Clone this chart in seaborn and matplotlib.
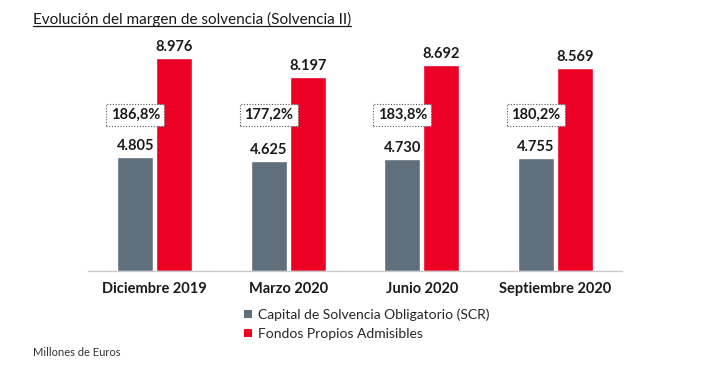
import matplotlib
import numpy as np
import pandas as pd
import seaborn as sns

matplotlib.use("Agg")
import matplotlib.pyplot as plt
from matplotlib.lines import Line2D
from matplotlib.patches import Patch

periodos = ["Diciembre 2019", "Marzo 2020", "Junio 2020", "Septiembre 2020"]
scr = [4805, 4625, 4730, 4755]
fondos = [8976, 8197, 8692, 8569]
ratios = ["186,8%", "177,2%", "183,8%", "180,2%"]

SERIE_SCR = "Capital de Solvencia Obligatorio (SCR)"
SERIE_FP = "Fondos Propios Admisibles"
GRIS = "#5f6f7b"
ROJO = "#ec0026"


def fmt_miles(v: float) -> str:
    return f"{v:,.0f}".replace(",", ".")


df = pd.DataFrame(
    {
        "Periodo": periodos * 2,
        "Serie": [SERIE_SCR] * len(periodos) + [SERIE_FP] * len(periodos),
        "Valor": scr + fondos,
    }
)

sns.set_theme(style="white")
plt.rcParams["font.family"] = ["Lato", "DejaVu Sans"]

fig = plt.figure(figsize=(7.11, 3.68), dpi=100)
ax = fig.add_axes([0.1238, 0.2636, 0.7511, 0.644])

sns.barplot(
    data=df,
    x="Periodo",
    y="Valor",
    hue="Serie",
    order=periodos,
    hue_order=[SERIE_SCR, SERIE_FP],
    palette=[GRIS, ROJO],
    width=0.58,
    gap=0.07,
    saturation=1,
    legend=False,
    ax=ax,
)

ax.set_xlim(-0.5, 3.5)
ax.set_ylim(0, 10000)
ax.set_xlabel("")
ax.set_ylabel("")
ax.set_yticks([])
for side in ["top", "right", "left"]:
    ax.spines[side].set_visible(False)
ax.spines["bottom"].set_color("#c8c8c8")
ax.spines["bottom"].set_linewidth(1)
ax.tick_params(axis="x", which="major", length=0, pad=8, labelsize=10.5)
ax.set_xticks(np.arange(-0.5, 4, 1), minor=True)
ax.tick_params(axis="x", which="minor", length=4, color="#c8c8c8", width=1)
for lbl in ax.get_xticklabels():
    lbl.set_fontweight("bold")
    lbl.set_color("#1a1a1a")

for cont in ax.containers:
    for bar in cont:
        h = bar.get_height()
        ax.text(
            bar.get_x() + bar.get_width() / 2,
            h + 170,
            fmt_miles(h),
            ha="center",
            va="bottom",
            fontsize=10.5,
            fontweight="bold",
            color="#1a1a1a",
        )

gris_bars = ax.containers[0]
for bar, txt in zip(gris_bars, ratios):
    ax.text(
        bar.get_x() + bar.get_width() / 2,
        6580,
        txt,
        ha="center",
        va="center",
        fontsize=10.5,
        fontweight="bold",
        color="#1a1a1a",
        bbox=dict(boxstyle="square,pad=0.3", fc="white", ec="#555555", lw=0.8, ls=(0, (1, 1.5))),
    )

handles = [Patch(facecolor=GRIS, edgecolor="none"), Patch(facecolor=ROJO, edgecolor="none")]
fig.legend(
    handles,
    [SERIE_SCR, SERIE_FP],
    loc="upper left",
    bbox_to_anchor=(0.343, 0.162),
    frameon=False,
    fontsize=10,
    handlelength=0.6,
    handleheight=0.6,
    handletextpad=0.45,
    labelspacing=0.5,
    borderaxespad=0,
    borderpad=0,
)

titulo = fig.text(
    33 / 711,
    1 - 19 / 368,
    "Evolución del margen de solvencia (Solvencia II)",
    ha="left",
    va="center",
    fontsize=11,
    color="#1a1a1a",
)
fig.canvas.draw()
bb = titulo.get_window_extent().transformed(fig.transFigure.inverted())
fig.add_artist(
    Line2D([bb.x0, bb.x1], [bb.y0 + 0.002, bb.y0 + 0.002], color="#1a1a1a", lw=0.9, transform=fig.transFigure)
)

fig.text(33 / 711, 1 - 353 / 368, "Millones de Euros", ha="left", va="center", fontsize=8, color="#333333")

fig.savefig("out.png", dpi=100)
